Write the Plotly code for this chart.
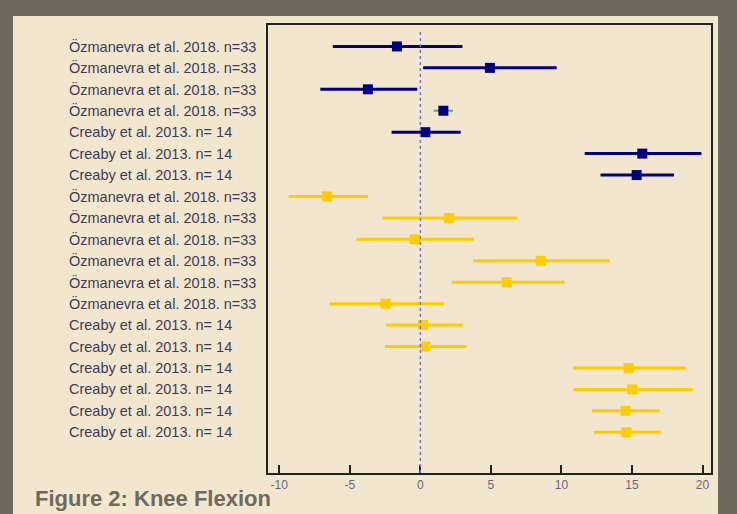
import plotly.graph_objects as go

labels = ["Özmanevra et al. 2018. n=33"] * 4 + ["Creaby et al. 2013. n= 14"] * 3 + \
         ["Özmanevra et al. 2018. n=33"] * 6 + ["Creaby et al. 2013. n= 14"] * 6
est = [-1.66, 4.93, -3.72, 1.63, 0.35, 15.73, 15.33,
       -6.61, 2.03, -0.38, 8.53, 6.11, -2.47, 0.19, 0.35,
       14.76, 15.02, 14.54, 14.61]
lo = [-6.21, 0.19, -7.09, 0.95, -2.04, 11.65, 12.77,
      -9.34, -2.68, -4.53, 3.74, 2.22, -6.45, -2.42, -2.52,
      10.85, 10.85, 12.15, 12.29]
hi = [2.98, 9.66, -0.22, 2.32, 2.86, 19.92, 17.98,
      -3.72, 6.87, 3.81, 13.43, 10.23, 1.66, 3.01, 3.27,
      18.81, 19.31, 16.96, 17.03]
group = ["blue"] * 7 + ["yellow"] * 12
xticks = [-10, -5, 0, 5, 10, 15, 20]

W, H = 737, 514
L, R, T, B = 268, 26, 25, 41
pw, ph = W - L - R, H - T - B

def px(x):
    return (x - L) / pw

def py(y):
    return 1 - (y - T) / ph

rows = list(range(1, len(labels) + 1))
fig = go.Figure()

styles = {"blue": ("#000080", "#000080"), "yellow": ("#ffcc00", "#ffcc00")}
for i in range(len(labels)):
    mc, lc = styles[group[i]]
    lw = 3
    if i == 3:
        lc = "#6aa84f"
        lw = 2
    fig.add_trace(go.Scatter(
        x=[est[i]], y=[rows[i]], mode="markers",
        marker=dict(symbol="square", size=10, color=mc),
        error_x=dict(type="data", symmetric=False,
                     array=[hi[i] - est[i]], arrayminus=[est[i] - lo[i]],
                     color=lc, thickness=lw, width=0),
        showlegend=False, hoverinfo="skip"))

shapes = [
    dict(type="rect", xref="paper", yref="paper", x0=px(13), x1=px(718), y0=py(16), y1=py(516),
         fillcolor="#f2e6cf", line=dict(width=0), layer="below"),
    dict(type="line", xref="x", yref="paper", x0=0, x1=0, y0=0, y1=0.99,
         line=dict(color="#7878c0", width=1.5, dash="dot")),
]

annotations = [dict(text=lab, xref="paper", yref="y", x=px(67), y=r,
                    xanchor="left", yanchor="middle", showarrow=False,
                    font=dict(size=14.5, color="#3c3c58"))
               for lab, r in zip(labels, rows)]
annotations.append(dict(text="<b>Figure 2: Knee Flexion</b>", xref="paper", yref="paper",
                        x=px(33), y=py(513), xanchor="left", yanchor="bottom",
                        showarrow=False, font=dict(size=22, color="#6e6a5e")))

fig.update_layout(
    width=W, height=H,
    margin=dict(l=L, r=R, t=T, b=B, pad=0),
    paper_bgcolor="#6e6a5e",
    plot_bgcolor="#f2e6cf",
    shapes=shapes,
    annotations=annotations,
    font=dict(family="Liberation Sans, Arial, sans-serif"),
    xaxis=dict(range=[-10.8, 20.6], tickvals=xticks, ticktext=[str(t) for t in xticks],
               ticks="inside", ticklen=8, tickwidth=1.5, tickcolor="#222",
               showline=True, linecolor="#222", linewidth=2, mirror=True,
               showgrid=False, zeroline=False,
               tickfont=dict(size=12, color="#6a6478")),
    yaxis=dict(range=[20.9, 0.0], tickvals=rows, showticklabels=False,
               showline=True, linecolor="#222", linewidth=2, mirror=True,
               showgrid=False, zeroline=False, ticks=""),
)

fig.write_html("out.html", config={"displayModeBar": False},
               post_script="document.body.style.margin='0';document.body.style.overflow='hidden';")
